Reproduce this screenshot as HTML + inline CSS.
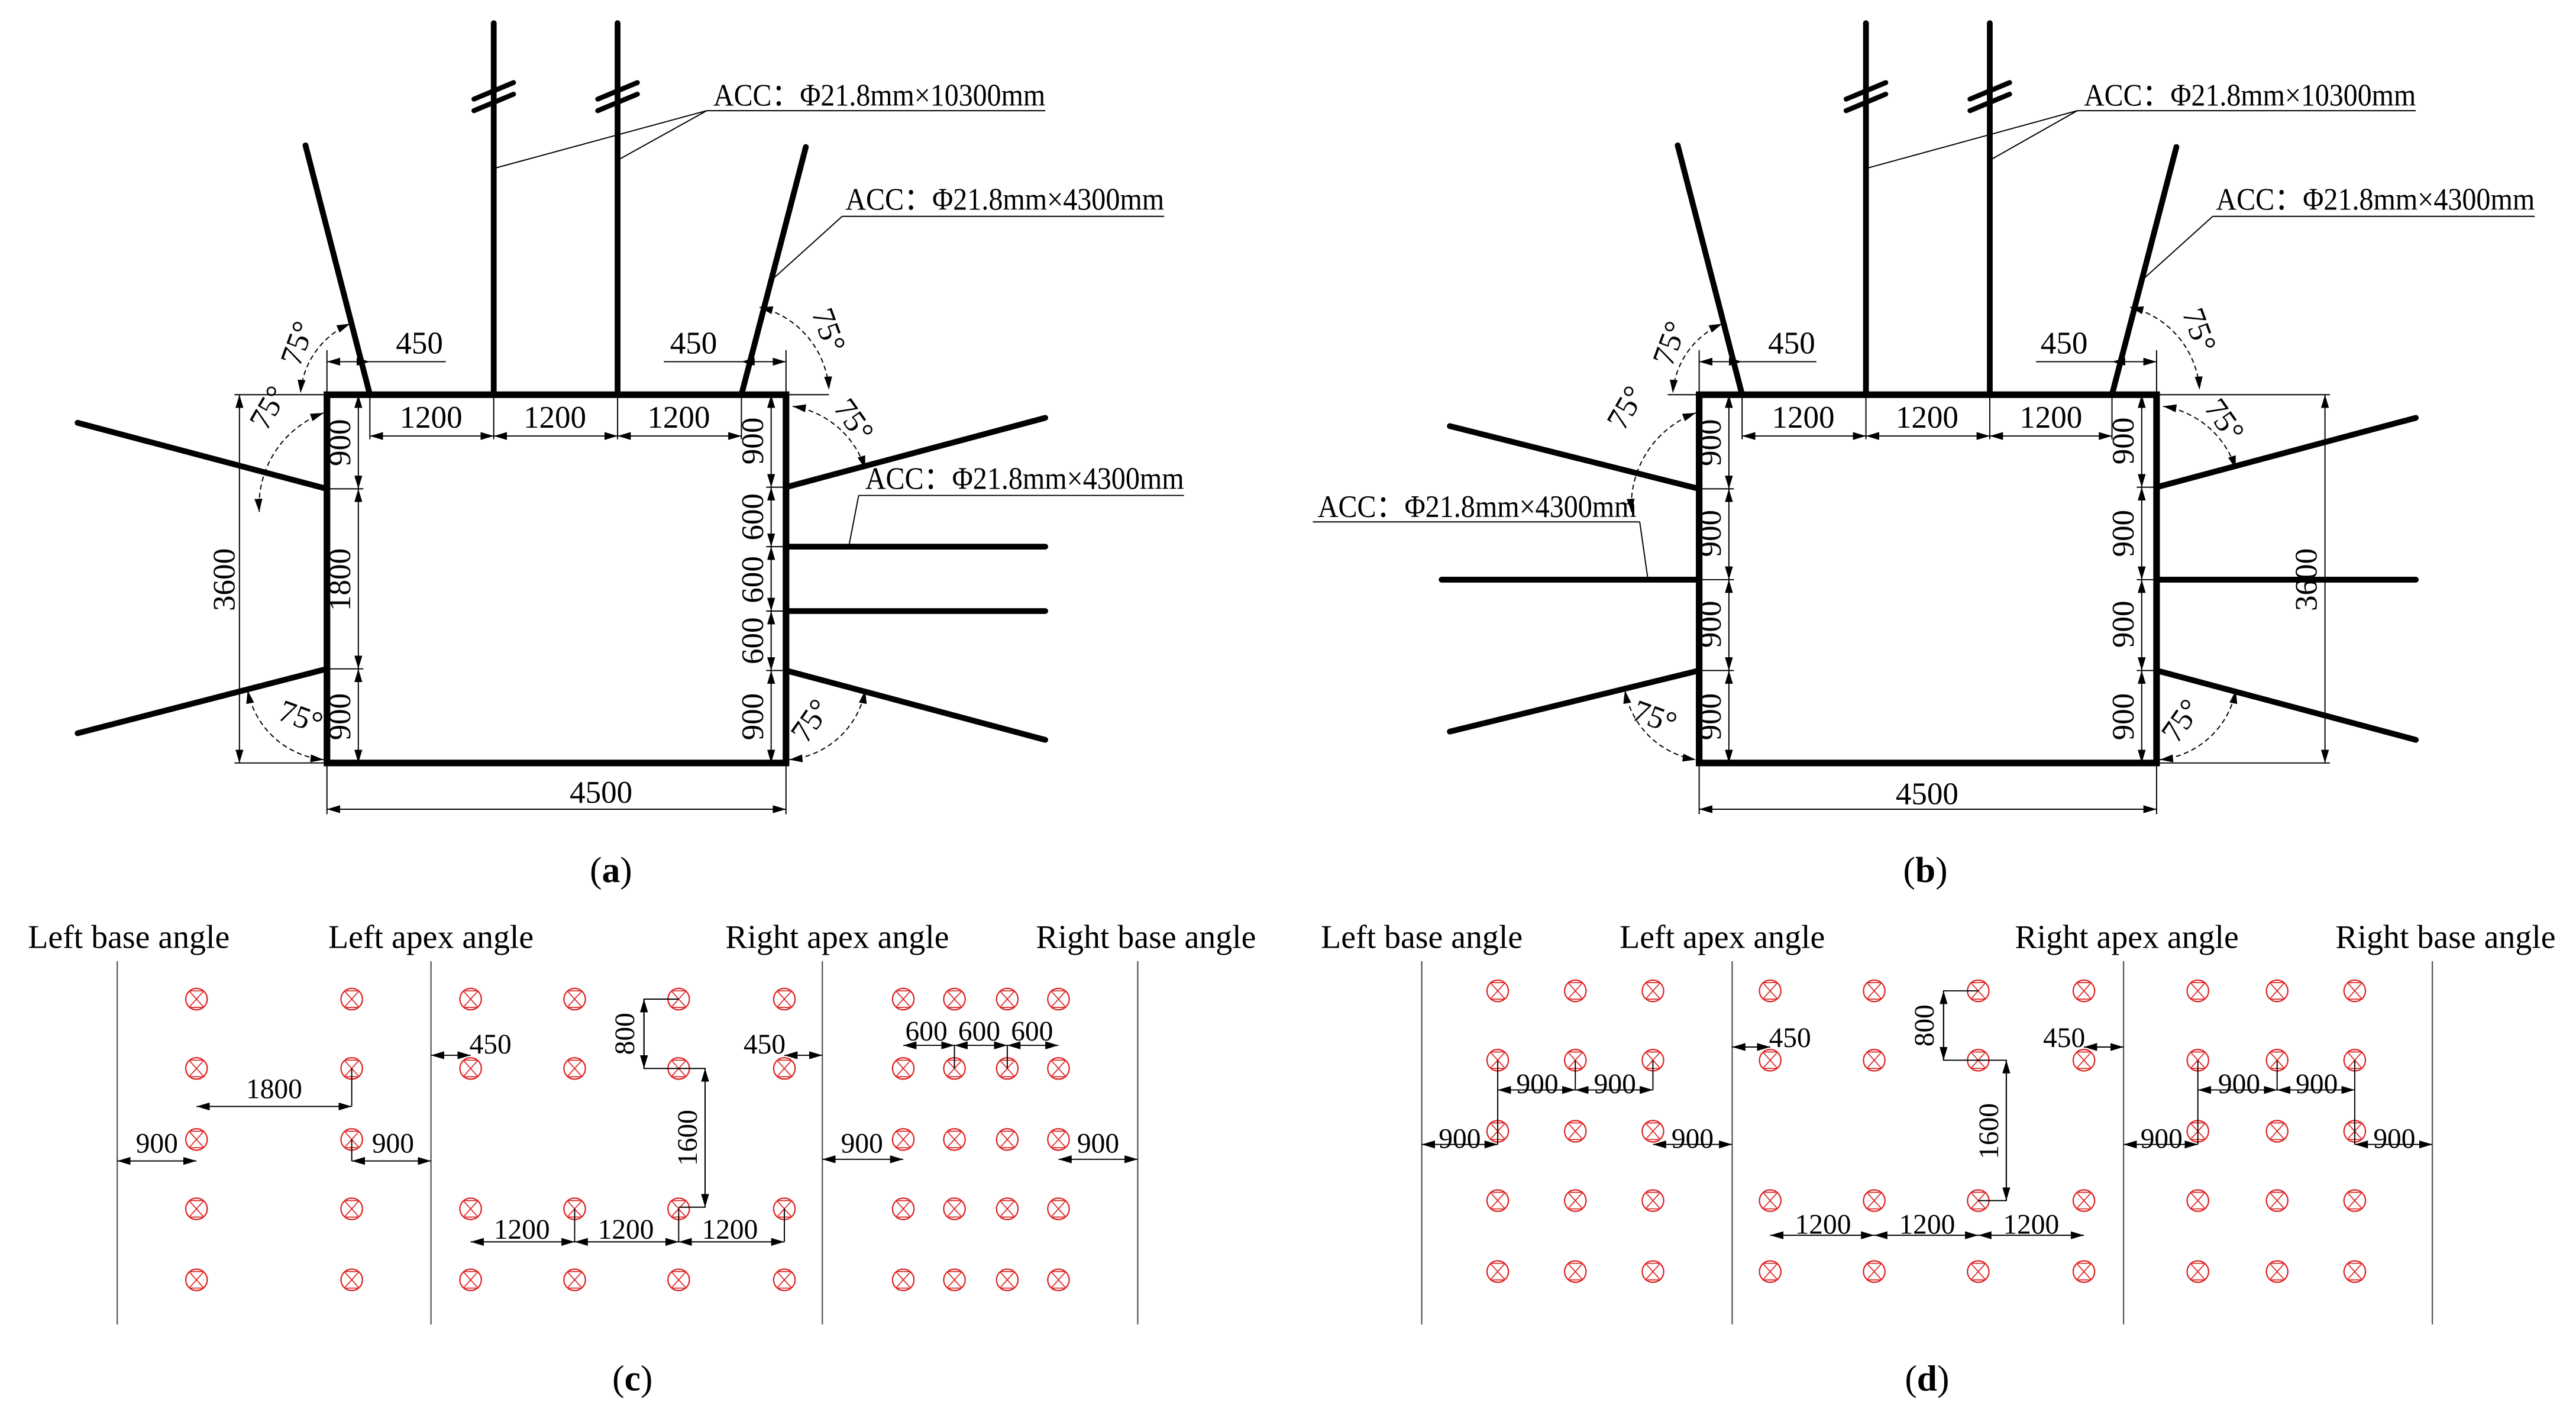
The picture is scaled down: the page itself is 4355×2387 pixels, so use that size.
<!DOCTYPE html>
<html><head><meta charset="utf-8"><style>
html,body{margin:0;padding:0;background:#fff}
svg{display:block}
text{font-family:"Liberation Serif",serif;fill:#000}
</style></head><body>
<svg width="4355" height="2387" viewBox="0 0 1560 855" xmlns="http://www.w3.org/2000/svg">
<defs>
<marker id="ar" viewBox="0 0 10 6" refX="10" refY="3" markerWidth="8" markerHeight="4.8" markerUnits="userSpaceOnUse" orient="auto-start-reverse"><path d="M0,0L10,3L0,6z" fill="#000"/></marker>
<g id="c"><circle r="6.5" fill="none" stroke="#d22" stroke-width="0.8"/><path d="M-4.5,-5L4.5,5M4.5,-5L-4.5,5M-4.5,-5H4.5M-4.5,5H4.5" stroke="#d22" stroke-width="0.6"/></g>
</defs>
<g font-size="19">
<!-- ===== Panel (a) ===== -->
<g stroke="#000" stroke-width="3.5" stroke-linecap="round" fill="none">
<rect x="198" y="239" width="278" height="223" stroke-width="4"/>
<line x1="299" y1="14" x2="299" y2="239"/><line x1="374" y1="14" x2="374" y2="239"/>
<line x1="185" y1="88" x2="224" y2="239"/><line x1="488" y1="89" x2="449" y2="239"/>
<line x1="47" y1="256" x2="198" y2="296"/><line x1="47" y1="444" x2="198" y2="405"/>
<line x1="476" y1="295" x2="633" y2="253"/><line x1="476" y1="331" x2="633" y2="331"/>
<line x1="476" y1="370" x2="633" y2="370"/><line x1="476" y1="406" x2="633" y2="448"/>
<line x1="287" y1="60" x2="311" y2="50" stroke-width="3"/><line x1="287" y1="67" x2="311" y2="57" stroke-width="3"/>
<line x1="362" y1="60" x2="386" y2="50" stroke-width="3"/><line x1="362" y1="67" x2="386" y2="57" stroke-width="3"/>
</g>
<g stroke="#000" stroke-width="0.7" fill="none">
<line x1="428" y1="67" x2="633" y2="67"/><line x1="428" y1="67" x2="299" y2="102"/><line x1="428" y1="67" x2="374" y2="97"/>
<line x1="510" y1="131" x2="705" y2="131"/><line x1="510" y1="131" x2="469" y2="168"/>
<line x1="520" y1="300" x2="717" y2="300"/><line x1="520" y1="300" x2="514" y2="331"/>
<line x1="198" y1="212" x2="198" y2="239"/><line x1="476" y1="212" x2="476" y2="239"/>
<line x1="224" y1="219" x2="270" y2="219"/><line x1="449" y1="219" x2="402" y2="219"/>
<line x1="299" y1="239" x2="299" y2="266"/><line x1="374" y1="239" x2="374" y2="266"/><line x1="224" y1="239" x2="224" y2="266"/><line x1="449" y1="239" x2="449" y2="266"/>
<line x1="142" y1="239" x2="198" y2="239"/><line x1="142" y1="462" x2="198" y2="462"/>
<line x1="198" y1="462" x2="198" y2="493"/><line x1="476" y1="462" x2="476" y2="493"/>
<line x1="198" y1="296" x2="220" y2="296"/><line x1="198" y1="405" x2="220" y2="405"/>
<line x1="464" y1="295" x2="476" y2="295"/><line x1="464" y1="331" x2="476" y2="331"/><line x1="464" y1="370" x2="476" y2="370"/><line x1="464" y1="406" x2="476" y2="406"/>
<line x1="476" y1="239" x2="502" y2="239"/>
</g>
<g stroke="#000" stroke-width="0.7" marker-start="url(#ar)" marker-end="url(#ar)">
<line x1="198" y1="219" x2="224" y2="219"/><line x1="449" y1="219" x2="476" y2="219"/>
<line x1="224" y1="264" x2="299" y2="264"/><line x1="299" y1="264" x2="374" y2="264"/><line x1="374" y1="264" x2="449" y2="264"/>
<line x1="217" y1="239" x2="217" y2="296"/><line x1="217" y1="296" x2="217" y2="405"/><line x1="217" y1="405" x2="217" y2="462"/>
<line x1="467" y1="239" x2="467" y2="295"/><line x1="467" y1="295" x2="467" y2="331"/><line x1="467" y1="331" x2="467" y2="370"/><line x1="467" y1="370" x2="467" y2="406"/><line x1="467" y1="406" x2="467" y2="462"/>
<line x1="145" y1="239" x2="145" y2="462"/><line x1="198" y1="490" x2="476" y2="490"/>
</g>
<g stroke="#000" stroke-width="0.7" fill="none" stroke-dasharray="3,2" marker-start="url(#ar)" marker-end="url(#ar)">
<path d="M212,196 A50,50 0 0 0 182,238"/><path d="M196,250 A60,60 0 0 0 157,310"/>
<path d="M460,186 A55,55 0 0 1 502,236"/><path d="M480,246 A55,55 0 0 1 524,284"/>
<path d="M150,418 A52,52 0 0 0 196,460"/><path d="M478,460 A52,52 0 0 0 524,418"/>
</g>
<text x="432" y="64" textLength="201" lengthAdjust="spacingAndGlyphs">ACC：Φ21.8mm×10300mm</text>
<text x="512" y="127" textLength="193" lengthAdjust="spacingAndGlyphs">ACC：Φ21.8mm×4300mm</text>
<text x="524" y="296" textLength="193" lengthAdjust="spacingAndGlyphs">ACC：Φ21.8mm×4300mm</text>
<text x="254" y="214" text-anchor="middle">450</text><text x="420" y="214" text-anchor="middle">450</text>
<text x="261" y="259" text-anchor="middle">1200</text><text x="336" y="259" text-anchor="middle">1200</text><text x="411" y="259" text-anchor="middle">1200</text>
<text x="364" y="486" text-anchor="middle">4500</text>
<g text-anchor="middle">
<text transform="translate(142,351) rotate(-90)">3600</text>
<text transform="translate(212,268) rotate(-90)">900</text><text transform="translate(212,351) rotate(-90)">1800</text><text transform="translate(212,434) rotate(-90)">900</text>
<text transform="translate(462,267) rotate(-90)">900</text><text transform="translate(462,313) rotate(-90)">600</text><text transform="translate(462,351) rotate(-90)">600</text><text transform="translate(462,388) rotate(-90)">600</text><text transform="translate(462,434) rotate(-90)">900</text>
<text transform="translate(186,210) rotate(-70)">75°</text><text transform="translate(168,250) rotate(-60)">75°</text>
<text transform="translate(496,202) rotate(70)">75°</text><text transform="translate(512,258) rotate(55)">75°</text>
<text transform="translate(180,440) rotate(20)">75°</text><text transform="translate(496,440) rotate(-55)">75°</text>
</g>
<text x="370" y="534" text-anchor="middle" font-size="22">(<tspan font-weight="bold">a</tspan>)</text>

<!-- ===== Panel (b) ===== -->
<g stroke="#000" stroke-width="3.5" stroke-linecap="round" fill="none">
<rect x="1029" y="239" width="277" height="223" stroke-width="4"/>
<line x1="1130" y1="14" x2="1130" y2="239"/><line x1="1205" y1="14" x2="1205" y2="239"/>
<line x1="1016" y1="88" x2="1055" y2="239"/><line x1="1318" y1="89" x2="1279" y2="239"/>
<line x1="878" y1="258" x2="1029" y2="296"/><line x1="873" y1="351" x2="1029" y2="351"/><line x1="878" y1="443" x2="1029" y2="406"/>
<line x1="1306" y1="295" x2="1463" y2="253"/><line x1="1306" y1="351" x2="1463" y2="351"/><line x1="1306" y1="406" x2="1463" y2="448"/>
<line x1="1118" y1="60" x2="1142" y2="50" stroke-width="3"/><line x1="1118" y1="67" x2="1142" y2="57" stroke-width="3"/>
<line x1="1193" y1="60" x2="1217" y2="50" stroke-width="3"/><line x1="1193" y1="67" x2="1217" y2="57" stroke-width="3"/>
</g>
<g stroke="#000" stroke-width="0.7" fill="none">
<line x1="1258" y1="67" x2="1463" y2="67"/><line x1="1258" y1="67" x2="1130" y2="102"/><line x1="1258" y1="67" x2="1205" y2="97"/>
<line x1="1340" y1="131" x2="1535" y2="131"/><line x1="1340" y1="131" x2="1299" y2="168"/>
<line x1="795" y1="316" x2="993" y2="316"/><line x1="993" y1="316" x2="998" y2="351"/>
<line x1="1029" y1="212" x2="1029" y2="239"/><line x1="1306" y1="212" x2="1306" y2="239"/>
<line x1="1055" y1="219" x2="1100" y2="219"/><line x1="1279" y1="219" x2="1233" y2="219"/>
<line x1="1130" y1="239" x2="1130" y2="266"/><line x1="1205" y1="239" x2="1205" y2="266"/><line x1="1055" y1="239" x2="1055" y2="266"/><line x1="1279" y1="239" x2="1279" y2="266"/>
<line x1="1306" y1="239" x2="1411" y2="239"/><line x1="1306" y1="462" x2="1411" y2="462"/>
<line x1="1029" y1="462" x2="1029" y2="493"/><line x1="1306" y1="462" x2="1306" y2="493"/>
<line x1="1029" y1="296" x2="1050" y2="296"/><line x1="1029" y1="351" x2="1050" y2="351"/><line x1="1029" y1="406" x2="1050" y2="406"/>
<line x1="1294" y1="295" x2="1306" y2="295"/><line x1="1294" y1="351" x2="1306" y2="351"/><line x1="1294" y1="406" x2="1306" y2="406"/>
<line x1="1010" y1="239" x2="1029" y2="239"/>
</g>
<g stroke="#000" stroke-width="0.7" marker-start="url(#ar)" marker-end="url(#ar)">
<line x1="1029" y1="219" x2="1055" y2="219"/><line x1="1279" y1="219" x2="1306" y2="219"/>
<line x1="1055" y1="264" x2="1130" y2="264"/><line x1="1130" y1="264" x2="1205" y2="264"/><line x1="1205" y1="264" x2="1279" y2="264"/>
<line x1="1047" y1="239" x2="1047" y2="296"/><line x1="1047" y1="296" x2="1047" y2="351"/><line x1="1047" y1="351" x2="1047" y2="406"/><line x1="1047" y1="406" x2="1047" y2="462"/>
<line x1="1297" y1="239" x2="1297" y2="295"/><line x1="1297" y1="295" x2="1297" y2="351"/><line x1="1297" y1="351" x2="1297" y2="406"/><line x1="1297" y1="406" x2="1297" y2="462"/>
<line x1="1408" y1="239" x2="1408" y2="462"/><line x1="1029" y1="490" x2="1306" y2="490"/>
</g>
<g stroke="#000" stroke-width="0.7" fill="none" stroke-dasharray="3,2" marker-start="url(#ar)" marker-end="url(#ar)">
<path d="M1043,196 A50,50 0 0 0 1013,238"/><path d="M1027,250 A60,60 0 0 0 988,310"/>
<path d="M1290,186 A55,55 0 0 1 1332,236"/><path d="M1310,246 A55,55 0 0 1 1354,284"/>
<path d="M984,418 A52,52 0 0 0 1027,460"/><path d="M1308,460 A52,52 0 0 0 1354,418"/>
</g>
<text x="1262" y="64" textLength="201" lengthAdjust="spacingAndGlyphs">ACC：Φ21.8mm×10300mm</text>
<text x="1342" y="127" textLength="193" lengthAdjust="spacingAndGlyphs">ACC：Φ21.8mm×4300mm</text>
<text x="798" y="313" textLength="193" lengthAdjust="spacingAndGlyphs">ACC：Φ21.8mm×4300mm</text>
<text x="1085" y="214" text-anchor="middle">450</text><text x="1250" y="214" text-anchor="middle">450</text>
<text x="1092" y="259" text-anchor="middle">1200</text><text x="1167" y="259" text-anchor="middle">1200</text><text x="1242" y="259" text-anchor="middle">1200</text>
<text x="1167" y="487" text-anchor="middle">4500</text>
<g text-anchor="middle">
<text transform="translate(1403,351) rotate(-90)">3600</text>
<text transform="translate(1042,268) rotate(-90)">900</text><text transform="translate(1042,323) rotate(-90)">900</text><text transform="translate(1042,378) rotate(-90)">900</text><text transform="translate(1042,434) rotate(-90)">900</text>
<text transform="translate(1292,267) rotate(-90)">900</text><text transform="translate(1292,323) rotate(-90)">900</text><text transform="translate(1292,378) rotate(-90)">900</text><text transform="translate(1292,434) rotate(-90)">900</text>
<text transform="translate(1017,210) rotate(-70)">75°</text><text transform="translate(990,250) rotate(-60)">75°</text>
<text transform="translate(1326,202) rotate(70)">75°</text><text transform="translate(1342,258) rotate(55)">75°</text>
<text transform="translate(1000,440) rotate(20)">75°</text><text transform="translate(1326,440) rotate(-55)">75°</text>
</g>
<text x="1166" y="534" text-anchor="middle" font-size="22">(<tspan font-weight="bold">b</tspan>)</text>

<!-- ===== Panel (c) ===== -->
<g font-size="20">
<text x="78" y="574" text-anchor="middle">Left base angle</text>
<text x="261" y="574" text-anchor="middle">Left apex angle</text>
<text x="507" y="574" text-anchor="middle">Right apex angle</text>
<text x="694" y="574" text-anchor="middle">Right base angle</text>
<text x="861" y="574" text-anchor="middle">Left base angle</text>
<text x="1043" y="574" text-anchor="middle">Left apex angle</text>
<text x="1288" y="574" text-anchor="middle">Right apex angle</text>
<text x="1481" y="574" text-anchor="middle">Right base angle</text>
</g>
<g stroke="#555" stroke-width="0.8">
<line x1="71" y1="582" x2="71" y2="802"/><line x1="261" y1="582" x2="261" y2="802"/><line x1="498" y1="582" x2="498" y2="802"/><line x1="689" y1="582" x2="689" y2="802"/>
<line x1="861" y1="582" x2="861" y2="802"/><line x1="1049" y1="582" x2="1049" y2="802"/><line x1="1286" y1="582" x2="1286" y2="802"/><line x1="1473" y1="582" x2="1473" y2="802"/>
</g>
<g>
<use href="#c" x="119" y="605"/><use href="#c" x="119" y="647"/><use href="#c" x="119" y="690"/><use href="#c" x="119" y="732"/><use href="#c" x="119" y="775"/>
<use href="#c" x="213" y="605"/><use href="#c" x="213" y="647"/><use href="#c" x="213" y="690"/><use href="#c" x="213" y="732"/><use href="#c" x="213" y="775"/>
<use href="#c" x="285" y="605"/><use href="#c" x="285" y="647"/><use href="#c" x="285" y="732"/><use href="#c" x="285" y="775"/>
<use href="#c" x="348" y="605"/><use href="#c" x="348" y="647"/><use href="#c" x="348" y="732"/><use href="#c" x="348" y="775"/>
<use href="#c" x="411" y="605"/><use href="#c" x="411" y="647"/><use href="#c" x="411" y="732"/><use href="#c" x="411" y="775"/>
<use href="#c" x="475" y="605"/><use href="#c" x="475" y="647"/><use href="#c" x="475" y="732"/><use href="#c" x="475" y="775"/>
<use href="#c" x="547" y="605"/><use href="#c" x="547" y="647"/><use href="#c" x="547" y="690"/><use href="#c" x="547" y="732"/><use href="#c" x="547" y="775"/>
<use href="#c" x="578" y="605"/><use href="#c" x="578" y="647"/><use href="#c" x="578" y="690"/><use href="#c" x="578" y="732"/><use href="#c" x="578" y="775"/>
<use href="#c" x="610" y="605"/><use href="#c" x="610" y="647"/><use href="#c" x="610" y="690"/><use href="#c" x="610" y="732"/><use href="#c" x="610" y="775"/>
<use href="#c" x="641" y="605"/><use href="#c" x="641" y="647"/><use href="#c" x="641" y="690"/><use href="#c" x="641" y="732"/><use href="#c" x="641" y="775"/>
</g>
<g stroke="#000" stroke-width="0.7" fill="none">
<line x1="213" y1="647" x2="213" y2="670"/><line x1="213" y1="690" x2="213" y2="703"/>
<path d="M411,605H390V647H427V731H411"/>
<line x1="348" y1="732" x2="348" y2="752"/><line x1="411" y1="732" x2="411" y2="752"/><line x1="475" y1="732" x2="475" y2="752"/>
<line x1="578" y1="633" x2="578" y2="647"/><line x1="610" y1="633" x2="610" y2="647"/>
</g>
<g stroke="#000" stroke-width="0.7" marker-start="url(#ar)" marker-end="url(#ar)">
<line x1="119" y1="670" x2="213" y2="670"/>
<line x1="71" y1="703" x2="119" y2="703"/><line x1="213" y1="703" x2="261" y2="703"/>
<line x1="261" y1="639" x2="285" y2="639"/><line x1="475" y1="639" x2="498" y2="639"/>
<line x1="390" y1="605" x2="390" y2="647"/><line x1="427" y1="647" x2="427" y2="731"/>
<line x1="285" y1="752" x2="348" y2="752"/><line x1="348" y1="752" x2="411" y2="752"/><line x1="411" y1="752" x2="475" y2="752"/>
<line x1="547" y1="633" x2="578" y2="633"/><line x1="578" y1="633" x2="610" y2="633"/><line x1="610" y1="633" x2="641" y2="633"/>
<line x1="498" y1="702" x2="547" y2="702"/><line x1="641" y1="702" x2="689" y2="702"/>
</g>
<g font-size="17" text-anchor="middle">
<text x="166" y="665">1800</text><text x="95" y="698">900</text><text x="238" y="698">900</text>
<text x="297" y="638">450</text><text x="463" y="638">450</text>
<text x="316" y="750">1200</text><text x="379" y="750">1200</text><text x="442" y="750">1200</text>
<text x="561" y="630">600</text><text x="593" y="630">600</text><text x="625" y="630">600</text>
<text x="522" y="698">900</text><text x="665" y="698">900</text>
<text transform="translate(384,626) rotate(-90)">800</text><text transform="translate(422,689) rotate(-90)">1600</text>
</g>
<text x="383" y="842" text-anchor="middle" font-size="22">(<tspan font-weight="bold">c</tspan>)</text>

<!-- ===== Panel (d) ===== -->
<g>
<use href="#c" x="907" y="600"/><use href="#c" x="907" y="642"/><use href="#c" x="907" y="685"/><use href="#c" x="907" y="727"/><use href="#c" x="907" y="770"/>
<use href="#c" x="954" y="600"/><use href="#c" x="954" y="642"/><use href="#c" x="954" y="685"/><use href="#c" x="954" y="727"/><use href="#c" x="954" y="770"/>
<use href="#c" x="1001" y="600"/><use href="#c" x="1001" y="642"/><use href="#c" x="1001" y="685"/><use href="#c" x="1001" y="727"/><use href="#c" x="1001" y="770"/>
<use href="#c" x="1072" y="600"/><use href="#c" x="1072" y="642"/><use href="#c" x="1072" y="727"/><use href="#c" x="1072" y="770"/>
<use href="#c" x="1135" y="600"/><use href="#c" x="1135" y="642"/><use href="#c" x="1135" y="727"/><use href="#c" x="1135" y="770"/>
<use href="#c" x="1198" y="600"/><use href="#c" x="1198" y="642"/><use href="#c" x="1198" y="727"/><use href="#c" x="1198" y="770"/>
<use href="#c" x="1262" y="600"/><use href="#c" x="1262" y="642"/><use href="#c" x="1262" y="727"/><use href="#c" x="1262" y="770"/>
<use href="#c" x="1331" y="600"/><use href="#c" x="1331" y="642"/><use href="#c" x="1331" y="685"/><use href="#c" x="1331" y="727"/><use href="#c" x="1331" y="770"/>
<use href="#c" x="1379" y="600"/><use href="#c" x="1379" y="642"/><use href="#c" x="1379" y="685"/><use href="#c" x="1379" y="727"/><use href="#c" x="1379" y="770"/>
<use href="#c" x="1426" y="600"/><use href="#c" x="1426" y="642"/><use href="#c" x="1426" y="685"/><use href="#c" x="1426" y="727"/><use href="#c" x="1426" y="770"/>
</g>
<g stroke="#000" stroke-width="0.7" fill="none">
<line x1="907" y1="642" x2="907" y2="693"/><line x1="954" y1="642" x2="954" y2="660"/><line x1="1001" y1="642" x2="1001" y2="660"/>
<line x1="1331" y1="642" x2="1331" y2="693"/><line x1="1379" y1="642" x2="1379" y2="660"/><line x1="1426" y1="642" x2="1426" y2="693"/>
<path d="M1198,600H1177V642H1215V727H1198"/>
</g>
<g stroke="#000" stroke-width="0.7" marker-start="url(#ar)" marker-end="url(#ar)">
<line x1="907" y1="660" x2="954" y2="660"/><line x1="954" y1="660" x2="1001" y2="660"/>
<line x1="861" y1="693" x2="907" y2="693"/><line x1="1001" y1="693" x2="1049" y2="693"/>
<line x1="1049" y1="634" x2="1072" y2="634"/><line x1="1262" y1="634" x2="1286" y2="634"/>
<line x1="1177" y1="600" x2="1177" y2="642"/><line x1="1215" y1="642" x2="1215" y2="727"/>
<line x1="1072" y1="748" x2="1135" y2="748"/><line x1="1135" y1="748" x2="1198" y2="748"/><line x1="1198" y1="748" x2="1262" y2="748"/>
<line x1="1331" y1="660" x2="1379" y2="660"/><line x1="1379" y1="660" x2="1426" y2="660"/>
<line x1="1286" y1="693" x2="1331" y2="693"/><line x1="1426" y1="693" x2="1473" y2="693"/>
</g>
<g font-size="17" text-anchor="middle">
<text x="931" y="662">900</text><text x="978" y="662">900</text>
<text x="884" y="695">900</text><text x="1025" y="695">900</text>
<text x="1084" y="634">450</text><text x="1250" y="634">450</text>
<text x="1104" y="747">1200</text><text x="1167" y="747">1200</text><text x="1230" y="747">1200</text>
<text x="1356" y="662">900</text><text x="1403" y="662">900</text>
<text x="1309" y="695">900</text><text x="1450" y="695">900</text>
<text transform="translate(1171,621) rotate(-90)">800</text><text transform="translate(1210,685) rotate(-90)">1600</text>
</g>
<text x="1167" y="842" text-anchor="middle" font-size="22">(<tspan font-weight="bold">d</tspan>)</text>
</g>
</svg>
</body></html>
